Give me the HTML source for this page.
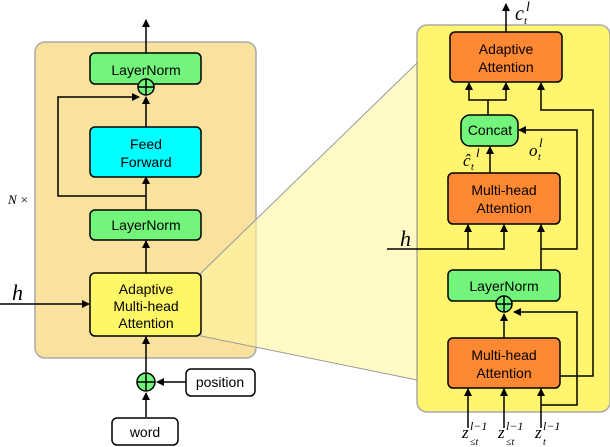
<!DOCTYPE html>
<html><head><style>
body{margin:0;background:#fff;}
svg{display:block;font-family:"Liberation Sans",sans-serif;}
.b{stroke:#000;stroke-width:1.5;}
.t{font-size:14px;text-anchor:middle;}
.m{font-family:"Liberation Serif",serif;font-style:italic;}
</style></head><body>
<svg width="610" height="447" viewBox="0 0 610 447">
<defs><marker id="a" markerWidth="8" markerHeight="8" refX="7" refY="4" orient="auto" markerUnits="userSpaceOnUse"><path d="M0,0 L8,4 L0,8 z" fill="#000"/></marker></defs>
<rect x="35" y="42" width="221" height="316" rx="10" fill="#f9e19e" stroke="#aaa" stroke-width="1.5"/>
<rect x="417" y="25" width="193" height="387" rx="10" fill="#fff56e" stroke="#aaa" stroke-width="1.5"/>
<polygon points="201,273 417,63 417,380 201,336" fill="#fff7a0" fill-opacity="0.6" stroke="#999" stroke-width="1"/>
<g fill="none" stroke="#000" stroke-width="1.5">
<line x1="146" y1="53" x2="146" y2="20" marker-end="url(#a)"/>
<line x1="146" y1="127" x2="146" y2="97" marker-end="url(#a)"/>
<polyline points="146,196 58,196 58,97 139,97" marker-end="url(#a)"/>
<line x1="146" y1="210" x2="146" y2="177" marker-end="url(#a)"/>
<line x1="146" y1="273" x2="146" y2="241" marker-end="url(#a)"/>
<line x1="0" y1="304" x2="89" y2="304" marker-end="url(#a)"/>
<line x1="146" y1="372" x2="146" y2="337" marker-end="url(#a)"/>
<line x1="146" y1="417" x2="146" y2="393" marker-end="url(#a)"/>
<line x1="186" y1="382" x2="157" y2="382" marker-end="url(#a)"/>
<line x1="506" y1="32" x2="506" y2="4" marker-end="url(#a)"/>
<polyline points="488,115 488,100 469,100 469,83" marker-end="url(#a)"/>
<polyline points="488,100 506,100 506,83" marker-end="url(#a)"/>
<line x1="490" y1="173" x2="490" y2="147" marker-end="url(#a)"/>
<polyline points="387,249 468,249 468,225" marker-end="url(#a)"/>
<polyline points="468,249 504,249 504,225" marker-end="url(#a)"/>
<line x1="541" y1="270" x2="541" y2="225" marker-end="url(#a)"/>
<polyline points="541,249 577,249 577,130 519,130" marker-end="url(#a)"/>
<polyline points="560,376 593,376 593,110 541,110 541,83" marker-end="url(#a)"/>
<line x1="504" y1="338" x2="504" y2="314" marker-end="url(#a)"/>
<polyline points="541,405 577,405 577,312 514,312" marker-end="url(#a)"/>
<line x1="468" y1="428" x2="468" y2="389" marker-end="url(#a)"/>
<line x1="504" y1="428" x2="504" y2="389" marker-end="url(#a)"/>
<line x1="541" y1="428" x2="541" y2="389" marker-end="url(#a)"/>
</g>
<rect x="90" y="53" width="111" height="31" rx="5" fill="#72f57a" class="b"/>
<text x="146" y="75" class="t">LayerNorm</text>
<circle cx="146" cy="87" r="8" fill="#72f57a" class="b"/>
<path d="M138,87h16M146,79v16" stroke="#000" stroke-width="1.5"/>
<rect x="90" y="127" width="111" height="50" rx="5" fill="#00ffff" class="b"/>
<text x="146" y="149" class="t">Feed</text><text x="146" y="167" class="t">Forward</text>
<rect x="90" y="210" width="111" height="30" rx="5" fill="#72f57a" class="b"/>
<text x="146" y="230" class="t">LayerNorm</text>
<rect x="90" y="273" width="111" height="63" rx="5" fill="#fff866" class="b"/>
<text x="146" y="294" class="t">Adaptive</text><text x="146" y="311" class="t">Multi-head</text><text x="146" y="328" class="t">Attention</text>
<circle cx="146" cy="382" r="9" fill="#72f57a" class="b"/>
<path d="M137,382h18M146,373v18" stroke="#000" stroke-width="1.5"/>
<rect x="186" y="369" width="69" height="27" rx="5" fill="#fff" class="b"/>
<text x="220" y="387" class="t">position</text>
<rect x="112" y="418" width="66" height="27" rx="5" fill="#fff" class="b"/>
<text x="145" y="437" class="t">word</text>
<text x="8" y="204" class="m" font-size="13">N ×</text>
<text x="12" y="300" class="m" font-size="22">h</text>
<rect x="450" y="32" width="112" height="50" rx="5" fill="#ff8833" class="b"/>
<text x="506" y="54" class="t">Adaptive</text><text x="506" y="72" class="t">Attention</text>
<rect x="461" y="115" width="57" height="31" rx="9" fill="#72f57a" class="b"/>
<text x="490" y="135" class="t">Concat</text>
<rect x="448" y="173" width="112" height="51" rx="5" fill="#ff8833" class="b"/>
<text x="504" y="195" class="t">Multi-head</text><text x="504" y="213" class="t">Attention</text>
<rect x="448" y="270" width="112" height="31" rx="5" fill="#72f57a" class="b"/>
<text x="504" y="291" class="t">LayerNorm</text>
<circle cx="504" cy="304" r="8" fill="#72f57a" class="b"/>
<path d="M496,304h16M504,296v16" stroke="#000" stroke-width="1.5"/>
<rect x="448" y="338" width="112" height="50" rx="5" fill="#ff8833" class="b"/>
<text x="504" y="360" class="t">Multi-head</text><text x="504" y="378" class="t">Attention</text>
<text x="400" y="246" class="m" font-size="22">h</text>
<g class="m">
<text x="515" y="20" font-size="20">c</text><text x="524" y="24" font-size="11">t</text><text x="526" y="11" font-size="14">l</text>
<text x="463" y="166" font-size="17">ĉ</text><text x="471" y="170" font-size="10">t</text><text x="476" y="157" font-size="13">l</text>
<text x="529" y="156" font-size="17">o</text><text x="538" y="160" font-size="10">t</text><text x="539" y="147" font-size="13">l</text>
<text x="462" y="438" font-size="17">z</text><text x="470" y="445" font-size="10">≤t</text><text x="470" y="430" font-size="12">l−1</text>
<text x="498" y="438" font-size="17">z</text><text x="506" y="445" font-size="10">≤t</text><text x="506" y="430" font-size="12">l−1</text>
<text x="535" y="438" font-size="17">z</text><text x="543" y="445" font-size="10">t</text><text x="543" y="430" font-size="12">l−1</text>
</g>
</svg>
</body></html>
